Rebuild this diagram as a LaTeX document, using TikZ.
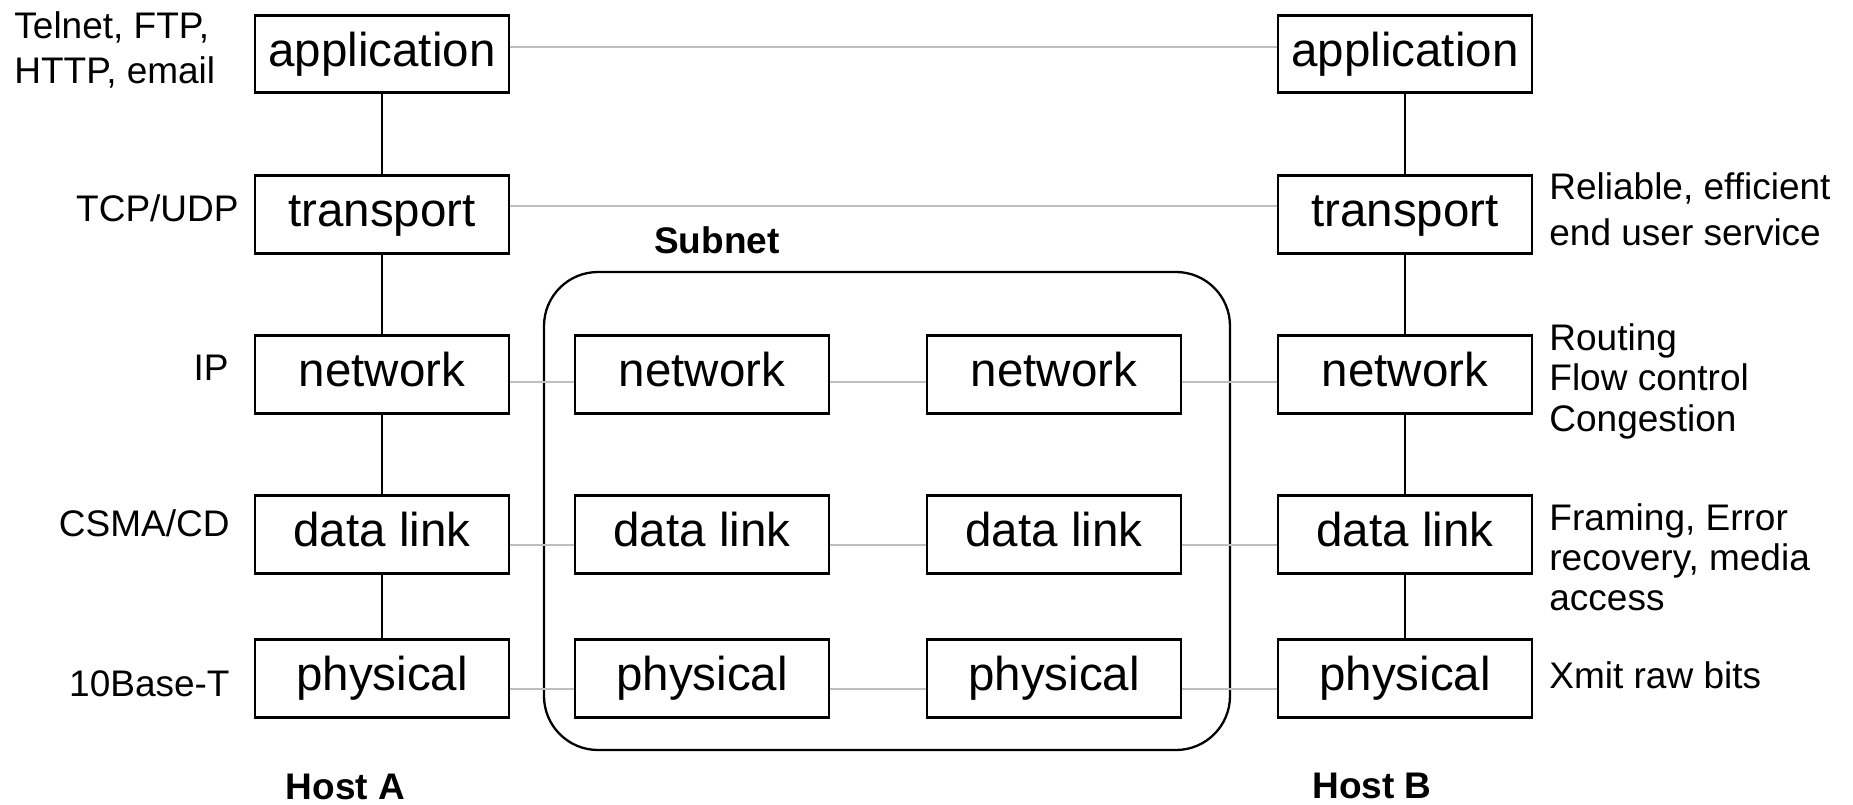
\documentclass[tikz,border=0pt]{standalone}
\usepackage{fontspec}
\setmainfont{Liberation Sans}
\begin{document}
\begin{tikzpicture}[x=0.5pt,y=-0.5pt,
  layerbox/.style={draw, line width=1.35pt, fill=white, inner sep=0pt,
    minimum width=127pt, minimum height=38.75pt,
    font=\fontsize{23.75}{28}\selectfont, text height=17.3pt, text depth=5pt},
  lbl/.style={inner sep=0pt, font=\fontsize{18.5}{22}\selectfont},
  title/.style={inner sep=0pt, font=\fontsize{18.5}{22}\selectfont\bfseries},
  peer/.style={draw=black!25, line width=1pt},
  stack/.style={draw=black, line width=1pt}]
\useasboundingbox (0,0) rectangle (1853,804);

% subnet enclosure
\node (subnet) [draw, line width=1.15pt, rounded corners=27pt, inner sep=0pt,
  minimum width=343pt, minimum height=239pt] at (887,511) {};
\node[title, anchor=base] (subnetlbl) at (717,253) {Subnet};

% host A stack
\node[layerbox] (lapp) at (382,54)    {application};
\node[layerbox] (ltra) at (382,214.5) {transport};
\node[layerbox] (lnet) at (382,374.5) {network};
\node[layerbox] (ldl)  at (382,534.5) {data link};
\node[layerbox] (lph)  at (382,678.5) {physical};

% subnet routers
\node[layerbox] (anet) at (702,374.5) {network};
\node[layerbox] (adl)  at (702,534.5) {data link};
\node[layerbox] (aph)  at (702,678.5) {physical};
\node[layerbox] (bnet) at (1054,374.5) {network};
\node[layerbox] (bdl)  at (1054,534.5) {data link};
\node[layerbox] (bph)  at (1054,678.5) {physical};

% host B stack
\node[layerbox] (rapp) at (1405,54)    {application};
\node[layerbox] (rtra) at (1405,214.5) {transport};
\node[layerbox] (rnet) at (1405,374.5) {network};
\node[layerbox] (rdl)  at (1405,534.5) {data link};
\node[layerbox] (rph)  at (1405,678.5) {physical};

% layer stacks inside each host
\foreach \c in {l,r}{
  \draw[stack] (\c app.south) -- (\c tra.north);
  \draw[stack] (\c tra.south) -- (\c net.north);
  \draw[stack] (\c net.south) -- (\c dl.north);
  \draw[stack] (\c dl.south)  -- (\c ph.north);
}

% peer-to-peer links
\draw[peer] ([yshift=3.5pt]lapp.east) -- ([yshift=3.5pt]rapp.west);
\draw[peer] ([yshift=4.25pt]ltra.east) -- ([yshift=4.25pt]rtra.west);
\draw[peer] ([yshift=-3.75pt]lnet.east) -- ([yshift=-3.75pt]anet.west);
\draw[peer] ([yshift=-3.75pt]anet.east) -- ([yshift=-3.75pt]bnet.west);
\draw[peer] ([yshift=-3.75pt]bnet.east) -- ([yshift=-3.75pt]rnet.west);
\draw[peer] ([yshift=-5.25pt]ldl.east) -- ([yshift=-5.25pt]adl.west);
\draw[peer] ([yshift=-5.25pt]adl.east) -- ([yshift=-5.25pt]bdl.west);
\draw[peer] ([yshift=-5.25pt]bdl.east) -- ([yshift=-5.25pt]rdl.west);
\draw[peer] ([yshift=-5.25pt]lph.east) -- ([yshift=-5.25pt]aph.west);
\draw[peer] ([yshift=-5.25pt]aph.east) -- ([yshift=-5.25pt]bph.west);
\draw[peer] ([yshift=-5.25pt]bph.east) -- ([yshift=-5.25pt]rph.west);

% protocol examples, host A side
\node[lbl, anchor=base west] (protoA) at (14,38) {Telnet, FTP,};
\node[lbl, anchor=base west] (protoB) at (14,83) {HTTP, email};
\node[lbl, anchor=base east] (protoT) at (239,221) {TCP/UDP};
\node[lbl, anchor=base east] (protoN) at (229,380) {IP};
\node[lbl, anchor=base east] (protoD) at (230,536) {CSMA/CD};
\node[lbl, anchor=base east] (protoP) at (230,696) {10Base-T};

% layer duties, host B side
\node[lbl, anchor=base west] (dutyT1) at (1549,199) {Reliable, efficient};
\node[lbl, anchor=base west] (dutyT2) at (1549,245) {end user service};
\node[lbl, anchor=base west] (dutyN1) at (1549,350) {Routing};
\node[lbl, anchor=base west] (dutyN2) at (1549,390) {Flow control};
\node[lbl, anchor=base west] (dutyN3) at (1549,431) {Congestion};
\node[lbl, anchor=base west] (dutyD1) at (1549,530) {Framing, Error};
\node[lbl, anchor=base west] (dutyD2) at (1549,570) {recovery, media};
\node[lbl, anchor=base west] (dutyD3) at (1549,610) {access};
\node[lbl, anchor=base west] (dutyP1) at (1549,688) {Xmit raw bits};

% host captions
\node[title, anchor=base] (hostA) at (345.5,799) {Host A};
\node[title, anchor=base] (hostB) at (1372,798) {Host B};
\end{tikzpicture}
\end{document}
